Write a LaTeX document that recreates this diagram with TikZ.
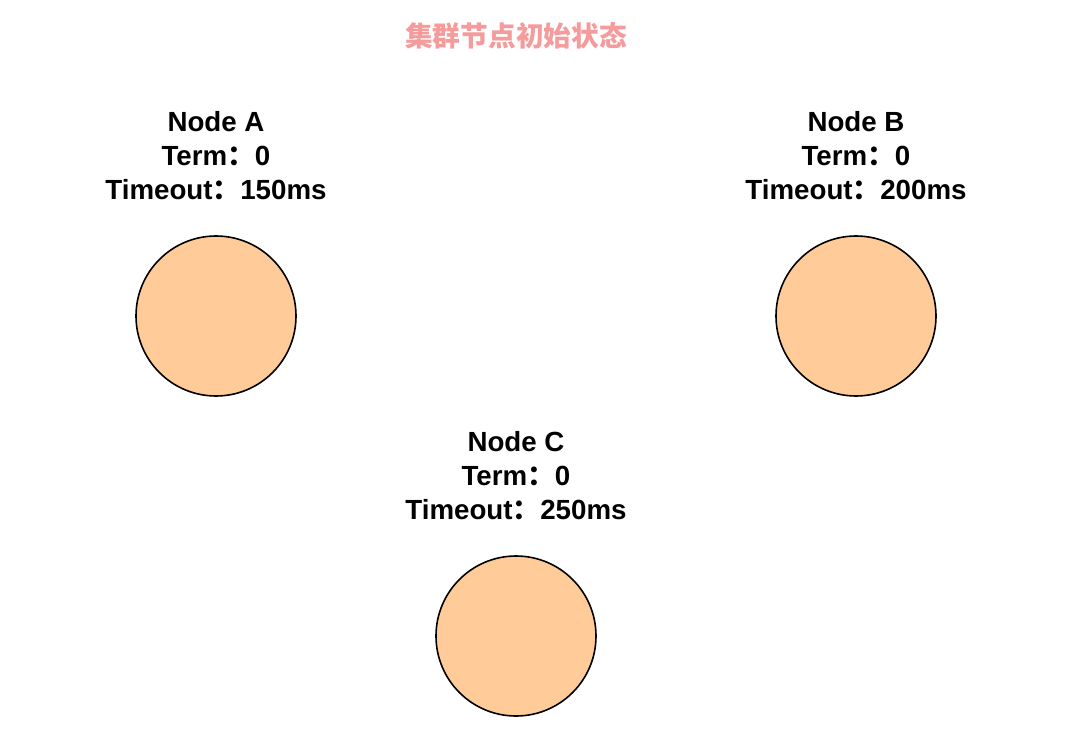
\documentclass[tikz,border=0pt]{standalone}
\usepackage{fontspec}
\setmainfont{Liberation Sans}
\newfontfamily\cjk{Noto Sans CJK SC}
\usepackage{tikz}

\definecolor{nodefill}{HTML}{FFCC99}
\definecolor{titlepink}{HTML}{F59B9B}

\begin{document}
\begin{tikzpicture}%
        [x=1pt, y=-1pt,
        server/.style={circle, draw=black, line width=1.6pt, fill=nodefill,
                       minimum size=160pt, inner sep=0pt},
        info/.style={align=center, inner sep=0pt,
                     font=\fontsize{27.7}{34}\selectfont\bfseries},
        heading/.style={inner sep=0pt, text=titlepink,
                        font=\fontsize{27.7}{34}\selectfont\cjk\bfseries}]

    \useasboundingbox (0,0) rectangle (1074,734);

    %% Title
    \node[heading] (title) at (516,36) {集群节点初始状态};
    %% Servers
    \node[server] (nodeA) at (216,316) {};
    \node[server] (nodeB) at (856,316) {};
    \node[server] (nodeC) at (516,636) {};
    %% State of each server
    \node[info] (infoA) at (216,156) {Node A\\Term{\cjk：}0\\Timeout{\cjk：}150ms};
    \node[info] (infoB) at (856,156) {Node B\\Term{\cjk：}0\\Timeout{\cjk：}200ms};
    \node[info] (infoC) at (516,476) {Node C\\Term{\cjk：}0\\Timeout{\cjk：}250ms};
    %%
\end{tikzpicture}
\end{document}
